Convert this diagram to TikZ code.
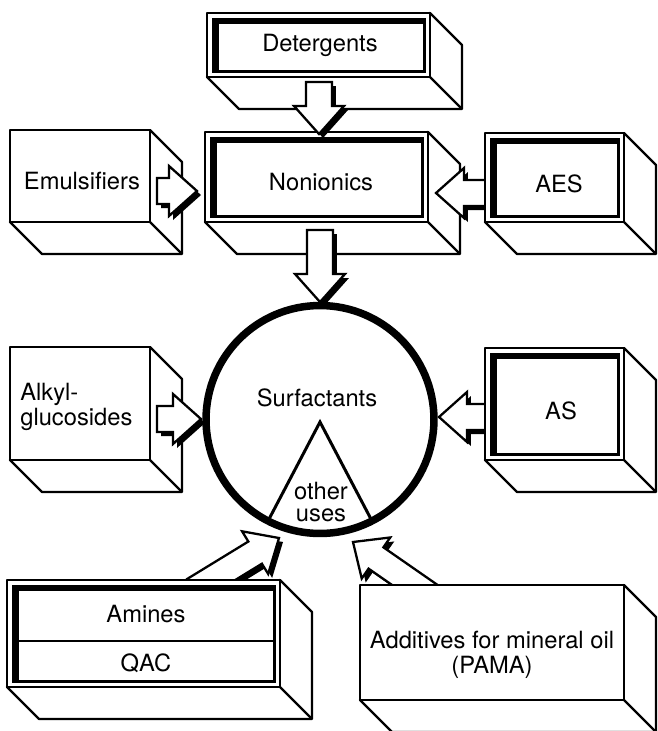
\documentclass[tikz,border=0pt]{standalone}
\usepackage{fontspec}
\setmainfont{TeX Gyre Heros}
\usetikzlibrary{calc,positioning}
\newcommand{\slabdepth}{32}
\newcommand{\bashaft}{0.26cm}
\newcommand{\bahead}{0.56cm}
\newcommand{\bawing}{0.5cm}
\tikzset{
  sf line/.style={draw=black, line width=1.3pt, line join=round},
  sf face/.style={sf line, fill=white},
  sf label/.style={font=\fontsize{13.5}{14.5}\selectfont, align=center, inner sep=0pt},
  sf arrow/.style={draw=black, fill=white, line width=1.3pt, line join=miter},
  sf shadow/.style={fill=black, transform canvas={xshift=0.08cm, yshift=-0.08cm}},
  sf hub/.style={circle, draw=black, line width=0.15cm, minimum size=4.56cm, inner sep=0pt},
  sf wedge/.style={draw=black, line width=1.7pt, line join=miter}
}
% box with depth: x1, y1, x2, y2 of the front face
\newcommand{\slabbox}[4]{%
  \draw[sf face] (#1,#4) -- ++(\slabdepth,\slabdepth) -- ++(#3-#1,0)
    -- ++(0,#2-#4) -- (#3,#2) -- cycle;
  \draw[sf line] (#3,#4) -- ++(\slabdepth,\slabdepth);
  \draw[sf face] (#1,#2) rectangle (#3,#4);
}
% inner heavy frame
\newcommand{\slabframe}[4]{%
  \fill[black] (#1+5,#2+5) rectangle (#3-4,#4-4);
  \fill[white] (#1+12,#2+11) rectangle (#3-7,#4-7);
}
\newcommand{\blockpath}[2]{%
  ($(#1)!\bashaft!90:(#2)$) -- ($(#2)!\bahead!(#1)!\bashaft!90:(#2)$)
  -- ($(#2)!\bahead!(#1)!\bawing!90:(#2)$) -- (#2)
  -- ($(#2)!\bahead!(#1)!\bawing!-90:(#2)$)
  -- ($(#2)!\bahead!(#1)!\bashaft!-90:(#2)$)
  -- ($(#1)!\bashaft!-90:(#2)$) -- cycle}
\newcommand{\blockarrow}[2]{%
  \fill[sf shadow] \blockpath{#1}{#2};
  \draw[sf arrow] \blockpath{#1}{#2};
}

\begin{document}
\begin{tikzpicture}[x=0.02cm,y=-0.02cm]
  \useasboundingbox (0,0) rectangle (657,731);

  % upper boxes
  \slabbox{207}{13}{430}{77}
  \slabframe{207}{13}{430}{77}
  \node[sf label] (det) at (320,45) {Detergents};

  \slabbox{205}{132}{428}{222}
  \slabframe{205}{132}{428}{222}
  \node[sf label] (non) at (321,182) {Nonionics};

  \slabbox{10}{130}{150}{222}
  \node[sf label] (emu) at (82,181) {Emulsifiers};

  \slabbox{10}{347}{150}{460}
  \node[sf label, align=left, anchor=west] (alk) at (20,407) {Alkyl-\\glucosides};

  % connectors
  \coordinate (det-out) at (319,82);
  \coordinate (non-top) at (319,134);
  \coordinate (emu-out) at (157,191);
  \coordinate (non-left) at (197,191);
  \coordinate (aes-out) at (492,193);
  \coordinate (non-right) at (436,193);
  \coordinate (non-out) at (320,230);
  \coordinate (surf-top) at (320,302);
  \coordinate (alk-out) at (157,419);
  \coordinate (surf-left) at (201,419);
  \coordinate (as-out) at (492,417);
  \coordinate (surf-right) at (439,417);
  \coordinate (ami-out) at (194,590);
  \coordinate (surf-sw) at (279,538);
  \coordinate (add-out) at (435,599);
  \coordinate (surf-se) at (353,542);

  \blockarrow{det-out}{non-top}
  \blockarrow{emu-out}{non-left}
  \blockarrow{non-out}{surf-top}
  \blockarrow{alk-out}{surf-left}
  \blockarrow{aes-out}{non-right}
  \blockarrow{as-out}{surf-right}
  \blockarrow{ami-out}{surf-sw}
  \blockarrow{add-out}{surf-se}

  % right and lower boxes
  \slabbox{485}{133}{624}{222}
  \slabframe{485}{133}{624}{222}
  \node[sf label] (aes) at (559,184) {AES};

  \slabbox{485}{348}{624}{460}
  \slabframe{485}{348}{624}{460}
  \node[sf label] (as) at (561,411) {AS};

  \slabbox{7}{580}{280}{687}
  \slabframe{7}{580}{280}{687}
  \draw[sf line] (19,641) -- (273,641);
  \node[sf label] (ami) at (146,614) {Amines};
  \node[sf label] (qac) at (146,663) {QAC};

  \slabbox{360}{585}{624}{700}
  \node[sf label] (add) at (492,655) {Additives for mineral oil\\(PAMA)};

  % surfactants
  \node[sf hub] (surf) at (320,419.5) {};
  \coordinate (apex) at (320,422);
  \draw[sf wedge] (268,521) -- (apex) -- (372,521);
  \node[sf label] (surf-t) at (317,398) {Surfactants};
  \node[sf label, font=\fontsize{13.5}{12.5}\selectfont] (other) at (321,502) {other\\uses};
\end{tikzpicture}
\end{document}
